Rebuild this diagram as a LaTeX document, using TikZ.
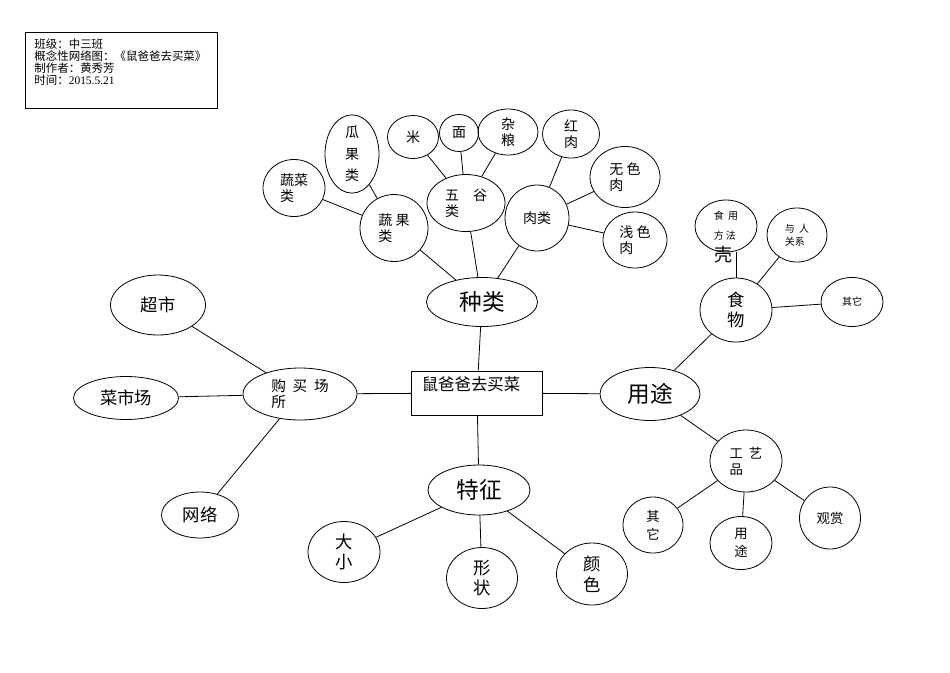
\documentclass[tikz,border=0pt]{standalone}
\usepackage{fontspec}
\setmainfont{Liberation Serif}
\newfontfamily\cjk{Noto Sans CJK SC}
\usetikzlibrary{shapes.geometric}

\tikzset{
  oval/.style={draw, ellipse, inner sep=0pt, align=left},
  sz/.style 2 args={minimum width=#1*0.75pt, minimum height=#2*0.75pt},
  bigtxt/.style={font=\cjk\fontsize{17}{20}\selectfont},
  midtxt/.style={font=\cjk\fontsize{13}{15.5}\selectfont},
  smalltxt/.style={font=\cjk\fontsize{10.5}{12}\selectfont},
  tinytxt/.style={font=\cjk\fontsize{7.5}{10}\selectfont},
}

\begin{document}
\begin{tikzpicture}[x=0.75pt, y=-0.75pt, line width=0.6pt]
        \useasboundingbox (0,0) rectangle (950,672);

        % info box
        \node[draw, anchor=north west, inner sep=0pt, font=\cjk\fontsize{8.6}{9}\selectfont] (info) at (25,32)
            {\parbox[t][57pt][t]{144pt}{\leftskip=6.75pt\rule{0pt}{12pt}班级：中三班\\概念性网络图：《鼠爸爸去买菜》\\制作者：黄秀芳\\时间：{\rmfamily 2015.5.21}}};

        % centre and main branches
        \node[draw, rectangle, sz={131}{44}, inner sep=0pt, align=left, font=\cjk\fontsize{12.3}{14}\selectfont] (box) at (477,393) {鼠爸爸去买菜\hspace*{9pt}\\\mbox{}};
        \node[oval, bigtxt, sz={111}{49}] (zl) at (482,302) {种类};
        \node[oval, bigtxt, sz={100}{53}] (yt) at (650,394) {用途};
        \node[oval, bigtxt, sz={102}{50}] (tz) at (479,490) {特征};
        \node[oval, smalltxt, font=\cjk\fontsize{11}{12}\selectfont, sz={114}{52}] (gm) at (300,394) {购\hspace{5pt}买\hspace{5pt}场\\所};

        % places
        \node[oval, midtxt, sz={95}{60}] (cs) at (158,305) {超市};
        \node[oval, midtxt, sz={105}{43}] (csc) at (126,398) {菜市场};
        \node[oval, midtxt, sz={77}{46}] (wl) at (200,515) {网络};

        % features
        \node[oval, midtxt, sz={72}{61}] (dx) at (344,552) {大\\小};
        \node[oval, midtxt, sz={71}{61}] (xz) at (482,578) {形\\状};
        \node[oval, midtxt, sz={71}{62}] (ys) at (592,574) {颜\\色};

        % kinds
        \node[oval, smalltxt, sz={68}{67}] (sg) at (394,228) {蔬\ 果\\类};
        \node[oval, smalltxt, sz={78}{57}] (wg) at (466,203) {五\hspace{1em}谷\\类};
        \node[oval, smalltxt, sz={64}{66}] (rl) at (537,218) {肉类};
        \node[oval, smalltxt, sz={62}{57}] (scl) at (294,188) {蔬菜\\类};
        \node[oval, smalltxt, font=\cjk\fontsize{10.5}{16}\selectfont, sz={54}{68}] (ggl) at (352,154) {瓜\\果\\类};
        \node[oval, smalltxt, sz={51}{43}] (mi) at (413,137) {米};
        \node[oval, smalltxt, sz={39}{37}] (mian) at (459,133) {面};
        \node[oval, smalltxt, sz={60}{46}] (zln) at (508,132) {杂\\粮};
        \node[oval, smalltxt, sz={57}{48}] (hr) at (571,134) {红\\肉};
        \node[oval, smalltxt, sz={70}{61}] (wsr) at (625,177) {无\ 色\\肉};
        \node[oval, smalltxt, sz={64}{56}] (qsr) at (635,240) {浅\ 色\\肉};

        % uses
        \node[oval, midtxt, font=\cjk\fontsize{13}{14.5}\selectfont, sz={72}{64}] (sw) at (736,310) {食\\物};
        \node[oval, tinytxt, font=\cjk\fontsize{7.5}{15}\selectfont, sz={62}{52}] (fy) at (726,226) {食\ \ 用\\方\ 法};
        \node[inner sep=0pt, font=\cjk\fontsize{13.5}{14}\selectfont] (ke) at (723,255) {壳};
        \node[oval, tinytxt, sz={60}{54}] (yr) at (797,235) {与\ \ 人\\关系};
        \node[oval, tinytxt, sz={62}{49}] (qt) at (852,302) {其它};
        \node[oval, smalltxt, font=\cjk\fontsize{10}{12}\selectfont, sz={72}{62}] (gyp) at (746,461) {工\ \ 艺\\品};
        \node[oval, smalltxt, font=\cjk\fontsize{10}{13.5}\selectfont, sz={60}{56}] (qt2) at (653,525) {其\\它};
        \node[oval, smalltxt, font=\cjk\fontsize{10}{13.5}\selectfont, sz={62}{53}] (yt2) at (741,543) {用\\途};
        \node[oval, smalltxt, font=\cjk\fontsize{10}{12}\selectfont, sz={61}{62}] (gs) at (830,518) {观赏};

        \draw (zl) -- (box);
        \draw (box) -- (yt);
        \draw (box) -- (tz);
        \draw (box) -- (gm);
        \draw (gm) -- (cs);
        \draw (gm) -- (csc);
        \draw (gm) -- (wl);
        \draw (tz) -- (dx);
        \draw (tz) -- (xz);
        \draw (tz) -- (ys);
        \draw (zl) -- (sg);
        \draw (zl) -- (wg);
        \draw (zl) -- (rl);
        \draw (sg) -- (scl);
        \draw (sg) -- (ggl);
        \draw (wg) -- (mi);
        \draw (wg) -- (mian);
        \draw (wg) -- (zln);
        \draw (rl) -- (hr);
        \draw (rl) -- (wsr);
        \draw (rl) -- (qsr);
        \draw (yt) -- (sw);
        \draw (yt) -- (gyp);
        \draw (sw.north) -- (sw.north |- fy.south);
        \draw (sw) -- (yr);
        \draw (sw) -- (qt);
        \draw (gyp) -- (qt2);
        \draw (gyp) -- (yt2);
        \draw (gyp) -- (gs);
\end{tikzpicture}
\end{document}
